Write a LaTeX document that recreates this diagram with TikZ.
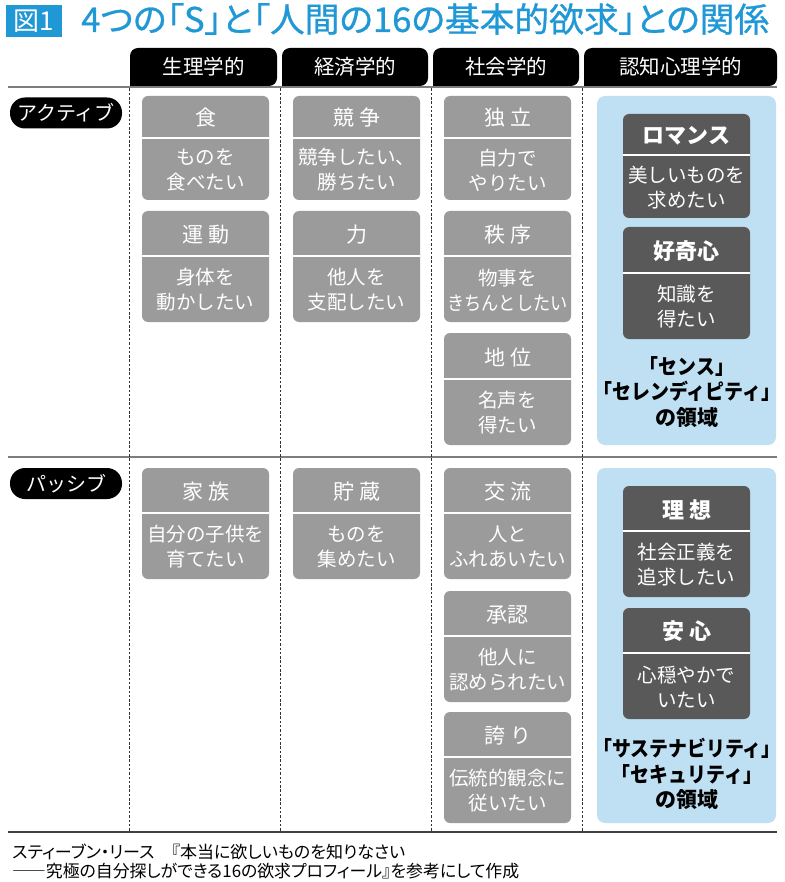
\documentclass[tikz,border=0pt]{standalone}
\usepackage{fontspec}
\usepackage{graphicx}
\setmainfont{Noto Sans CJK JP}
\newfontfamily\pfont{Noto Sans CJK JP}[RawFeature=+palt]
\newfontfamily\titlefont{Noto Sans CJK JP}[RawFeature=+palt,FakeBold=0.8]
\definecolor{titleblue}{RGB}{32,152,214}
\definecolor{boxgray}{RGB}{155,155,155}
\definecolor{darkbox}{RGB}{89,89,89}
\definecolor{panelblue}{RGB}{190,224,242}
\definecolor{rulegray}{RGB}{125,125,125}
\tikzset{
  hd/.style={text=white,font=\fontsize{21}{24}\selectfont,inner sep=0pt},
  bd/.style={text=white,font=\fontsize{19.5}{25}\selectfont,align=center,inner sep=0pt},
  dhd/.style={text=white,font=\bfseries\fontsize{22}{26}\selectfont,inner sep=0pt},
  tabtxt/.style={text=white,font=\fontsize{20.5}{22}\selectfont,inner sep=0pt},
  pill/.style={fill=black,text=white,rounded corners=15pt,minimum width=112pt,minimum height=31pt,inner sep=0pt,font=\fontsize{20}{24}\selectfont},
  paneltxt/.style={text=black,font=\bfseries\fontsize{21}{25.5}\selectfont,align=center,inner sep=0pt},
  rule/.style={draw=rulegray,line width=2.2pt},
  vdash/.style={draw=black!80,line width=0.8pt,dash pattern=on 2.5pt off 1.8pt},
}
% name, x-left, y-top, y-divider, y-bottom, fill, header, body, header style
\newcommand{\catbox}[9]{%
  \path[fill=#6,rounded corners=6pt] (#2,#3) rectangle ({#2+127},#5);
  \draw[white,line width=2pt] (#2,#4) -- ({#2+127},#4);
  \node[#9] (#1h) at ({#2+63.5},{(#3+#4)/2+1}) {#7};
  \node[bd] (#1b) at ({#2+63.5},{(#4+#5)/2+1}) {#8};
}
\begin{document}
\begin{tikzpicture}[x=1pt,y=-1pt]
\useasboundingbox (0,0) rectangle (784,882);
% title
\node[fill=titleblue,text=white,minimum width=56pt,minimum height=32pt,inner sep=0pt,font=\fontsize{26}{28}\selectfont] (fig) at (34,21) {図1};
\node[anchor=west,text=titleblue,inner sep=0pt,font=\titlefont\fontsize{34}{36}\selectfont] (title) at (81,19) {\resizebox{688pt}{\height}{4つの「S」と「人間の16の基本的欲求」との関係}};
% header tabs
\foreach \n/\xa/\xb/\t in {t1/130/277/生理学的,t2/282/428/経済学的,t3/433/579/社会学的,t4/584/777/認知心理学的}{
  \path[fill=black,rounded corners=8pt] (\xa,86) -- (\xa,48) -- (\xb,48) -- (\xb,86) [sharp corners] -- cycle;
  \node[tabtxt] (\n) at ({(\xa+\xb)/2},67) {\t};
}
% rules
\coordinate (r1a) at (8,87); \coordinate (r1b) at (777,87);
\coordinate (r2a) at (8,457); \coordinate (r2b) at (777,457);
\coordinate (r3a) at (8,832); \coordinate (r3b) at (777,832);
\draw[rule] (r1a) -- (r1b);
\draw[rule] (r2a) -- (r2b);
\draw[draw=black!75,line width=1.3pt] (r3a) -- (r3b);
\foreach \x in {129.5,280.5,431.5,582.5}{
  \draw[vdash] (\x,88.5) -- (\x,831);
}
% row labels
\node[pill] (active) at (66,113) {アクティブ};
\node[pill] (passive) at (66,483.5) {パッシブ};
% row 1
\catbox{food}{142}{96}{138}{200}{boxgray}{食}{ものを\\食べたい}{hd}
\catbox{exer}{142}{211}{256}{322}{boxgray}{運\hspace{5pt}動}{身体を\\動かしたい}{hd}
\catbox{comp}{293}{96}{138}{200}{boxgray}{競\hspace{5pt}争}{競争したい、\\勝ちたい}{hd}
\catbox{powr}{293}{211}{256}{322}{boxgray}{力}{他人を\\支配したい}{hd}
\catbox{inde}{444}{96}{138}{200}{boxgray}{独\hspace{5pt}立}{自力で\\やりたい}{hd}
\catbox{ordr}{444}{211}{256}{322}{boxgray}{秩\hspace{5pt}序}{物事を\\\resizebox{120pt}{\height}{きちんとしたい}}{hd}
\catbox{stat}{444}{333}{379}{445}{boxgray}{地\hspace{5pt}位}{名声を\\得たい}{hd}
\path[fill=panelblue,rounded corners=8pt] (597,96) rectangle (776,445);
\catbox{roma}{623}{114}{155}{218}{darkbox}{ロマンス}{美しいものを\\求めたい}{dhd}
\catbox{curi}{623}{227}{273}{339}{darkbox}{好奇心}{知識を\\得たい}{dhd}
\node[paneltxt] (sense) at (687,392) {\scalebox{0.9}[1]{「センス」}\\\scalebox{0.9}[1]{「セレンディピティ」}\\の領域};
% row 2
\catbox{fami}{142}{468}{513}{579}{boxgray}{家\hspace{5pt}族}{自分の子供を\\育てたい}{hd}
\catbox{save}{293}{468}{513}{579}{boxgray}{貯\hspace{5pt}蔵}{ものを\\集めたい}{hd}
\catbox{soci}{444}{468}{513}{579}{boxgray}{交\hspace{5pt}流}{人と\\ふれあいたい}{hd}
\catbox{acce}{444}{591}{636}{702}{boxgray}{承認}{他人に\\認められたい}{hd}
\catbox{prid}{444}{712}{757}{823}{boxgray}{誇\hspace{5pt}り}{伝統的観念に\\従いたい}{hd}
\path[fill=panelblue,rounded corners=8pt] (597,468) rectangle (776,823);
\catbox{idea}{623}{486}{531}{597}{darkbox}{理\hspace{5pt}想}{社会正義を\\追求したい}{dhd}
\catbox{safe}{623}{608}{653}{719}{darkbox}{安\hspace{5pt}心}{心穏やかで\\いたい}{dhd}
\node[paneltxt] (sust) at (687,774) {\scalebox{0.9}[1]{「サステナビリティ」}\\\scalebox{0.9}[1]{「セキュリティ」}\\の領域};
% footnote
\node[anchor=west,inner sep=0pt,font=\pfont\fontsize{17}{20}\selectfont] (fn1) at (12,852) {\resizebox{393pt}{\height}{スティーブン・リース　『本当に欲しいものを知りなさい}};
\node[anchor=west,inner sep=0pt,font=\pfont\fontsize{17}{20}\selectfont] (fn2) at (12,871) {\resizebox{507pt}{\height}{――究極の自分探しができる16の欲求プロフィール』を参考にして作成}};
\end{tikzpicture}
\end{document}
